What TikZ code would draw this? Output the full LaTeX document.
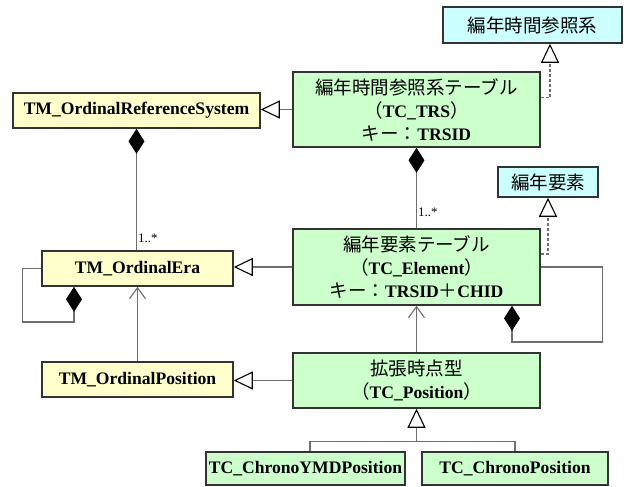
\documentclass[tikz,border=0pt]{standalone}
\usepackage{fontspec}
\setmainfont{Liberation Serif}
\newfontfamily\jpfont{Noto Sans CJK JP}
\newcommand\jpt[1]{{\jpfont\mdseries\fontsize{18.5}{23}\selectfont #1}}
\usetikzlibrary{arrows.meta,calc}
\definecolor{yel}{HTML}{FFFFCC}
\definecolor{grn}{HTML}{CCFFCC}
\definecolor{cyn}{HTML}{CCFFFF}
\definecolor{connc}{HTML}{6E6E6E}
\definecolor{bord}{HTML}{333333}
\begin{document}
\begin{tikzpicture}[x=1pt,y=-1pt,
  box/.style={draw=bord, line width=1.6pt, inner sep=0pt, align=center,
    font=\fontsize{17.6}{23}\selectfont\bfseries},
  ybox/.style={box, fill=yel},
  gbox/.style={box, fill=grn},
  cbox/.style={box, fill=cyn},
  conn/.style={draw=connc, line width=1.1pt},
  gen/.style={conn, -{Triangle[length=19pt,width=18pt,color=black,fill=white,line width=1.1pt]}},
  real/.style={gen, dashed, dash pattern=on 3pt off 2pt},
  comp/.style={conn, {Diamond[length=25pt,width=16pt,color=black]}-},
  compend/.style={conn, -{Diamond[length=25pt,width=16pt,color=black]}},
  nav/.style={conn, -{Straight Barb[length=11pt,width=16pt,line width=1.1pt]}},
  mult/.style={font=\fontsize{13}{15}\selectfont, inner sep=1pt}
]
\useasboundingbox (0,0) rectangle (630,487);
\fill[white] (0,0) rectangle (630,487);

\node[ybox, minimum width=247pt, minimum height=35pt] (ORS) at (136.5,110.5) {TM\_OrdinalReferenceSystem};
\node[cbox, minimum width=179pt, minimum height=36pt] (TOP) at (532.5,25) {\jpt{編年時間参照系}};
\node[gbox, minimum width=247pt, minimum height=75pt] (TRS) at (416.5,109.5)
  {\jpt{編年時間参照系テーブル}\\\jpt{（}TC\_TRS\jpt{）}\\\jpt{キー：}TRSID};
\node[cbox, minimum width=100pt, minimum height=30pt] (REQ) at (548,182) {\jpt{編年要素}};
\node[gbox, minimum width=247pt, minimum height=76pt] (ELEM) at (416.5,267)
  {\jpt{編年要素テーブル}\\\jpt{（}TC\_Element\jpt{）}\\\jpt{キー：}TRSID\jpt{＋}CHID};
\node[ybox, minimum width=191pt, minimum height=35pt] (ERA) at (137.5,268.5) {TM\_OrdinalEra};
\node[ybox, minimum width=191pt, minimum height=35pt] (OPOS) at (137.5,379.5) {TM\_OrdinalPosition};
\node[gbox, minimum width=247pt, minimum height=55pt] (POS) at (416.5,380.5)
  {\jpt{拡張時点型}\\\jpt{（}TC\_Position\jpt{）}};
\node[gbox, minimum width=199pt, minimum height=33pt] (YMD) at (305.5,468.5) {TC\_ChronoYMDPosition};
\node[gbox, minimum width=186pt, minimum height=33pt] (CHR) at (515,468.5) {TC\_ChronoPosition};

% generalizations
\draw[gen] (TRS.west) -- (TRS.west -| ORS.east);
\draw[gen] (ELEM.west) -- (ELEM.west -| ERA.east);
\draw[gen] (POS.west) -- (POS.west -| OPOS.east);

% realizations
\coordinate (tv) at (550,0);
\draw[real] ([yshift=12pt]TRS.east) -| (tv |- TOP.south);
\draw[real] ([yshift=13pt]ELEM.east) -| (REQ.south);

% compositions
\draw[comp] (TRS.south) -- (ELEM.north) node[mult, pos=0.8, right] {1..*};
\draw[comp] (ORS.south) -- (ORS.south |- ERA.north) node[mult, pos=0.9, right] {1..*};

% self loops
\coordinate (eraloop) at (74,322);
\draw[compend] (ERA.west) -- ++(-19,0) |- (eraloop) -- (eraloop |- ERA.south);
\coordinate (elloop) at (512,342);
\draw[compend] (ELEM.east) -- ++(62,0) |- (elloop) -- (elloop |- ELEM.south);

% navigable associations
\draw[nav] (OPOS.north) -- (ERA.south);
\draw[nav] (POS.north) -- (ELEM.south);

% generalization tree
\coordinate (bar) at ($(POS.south)+(0,33)$);
\draw[gen] (bar) -- (POS.south);
\draw[conn] ([xshift=4.5pt]YMD.north) |- (bar) -| (CHR.north);
\end{tikzpicture}
\end{document}
